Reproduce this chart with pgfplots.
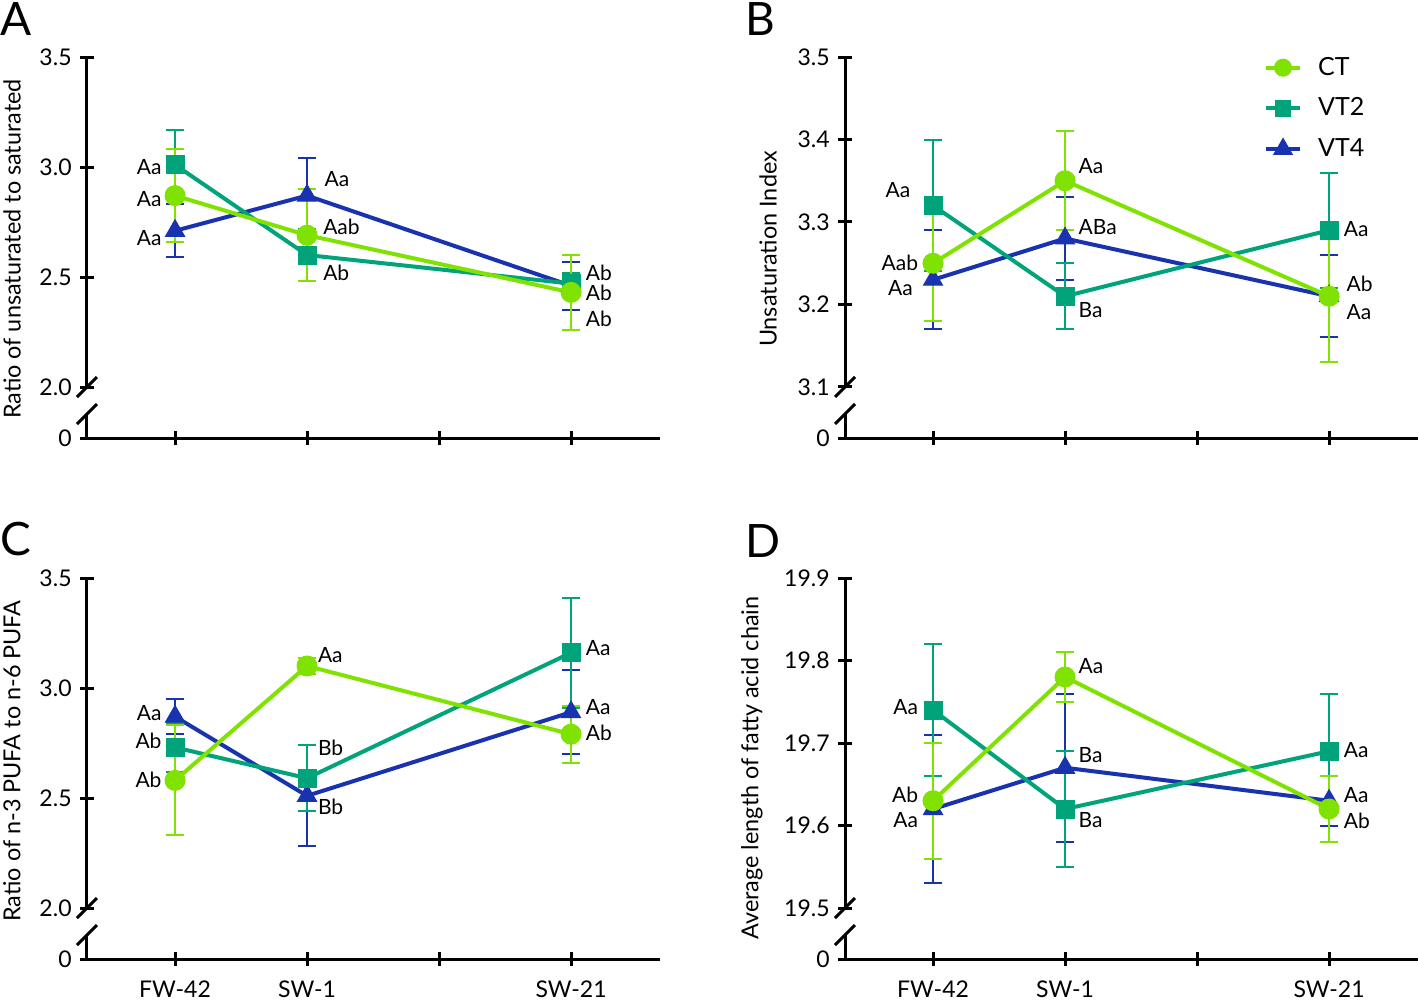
\documentclass[border=0pt]{standalone}
\usepackage{fontspec}
\setmainfont{Lato}
\usepackage{pgfplots}
\pgfplotsset{compat=1.18}
\definecolor{ctc}{RGB}{128,226,0}
\definecolor{vt2c}{RGB}{0,163,122}
\definecolor{vt4c}{RGB}{25,50,175}
\pgfplotsset{
 noarrow/.style={x axis line style={-}, y axis line style={-},
   every outer x axis line/.append style={-}, every outer y axis line/.append style={-},
   every inner x axis line/.append style={-}, every inner y axis line/.append style={-}},
 base/.style={scale only axis, width=286.5pt, xmin=0.333, xmax=4.674, clip=false,
   tick align=outside, major tick length=7pt,
   every tick/.style={black, line width=1.5pt},
   axis line style={-, line width=1.5pt, black},
   tick label style={font=\fontsize{11.5}{13}\selectfont},
   yticklabel style={inner xsep=4pt},
   xticklabel style={yshift=-3.8pt}},
 upper/.style={base, height=165pt, axis x line=none, axis y line=left, noarrow},
 lower/.style={base, height=12pt, ymin=0, ymax=1, axis x line=bottom, axis y line=left,
   ytick={0}, yticklabels={0}, xtick={1,2,3,4}, noarrow},
 ct/.style={color=ctc, line width=2pt, mark=*, mark size=5pt, mark options={solid, line width=0.5pt},
   error bars/.cd, y dir=both, y explicit, error bar style={line width=1pt, ctc},
   error mark options={rotate=90, line width=1pt, mark size=4.5pt, ctc}, /pgfplots/.cd},
 vt2/.style={color=vt2c, line width=2pt, mark=square*, mark size=4.5pt, mark options={solid, line width=0.5pt},
   error bars/.cd, y dir=both, y explicit, error bar style={line width=1pt, vt2c},
   error mark options={rotate=90, line width=1pt, mark size=4.5pt, vt2c}, /pgfplots/.cd},
 vt4/.style={color=vt4c, line width=2pt, mark=triangle*, mark size=5.5pt, mark options={solid, line width=0.5pt},
   error bars/.cd, y dir=both, y explicit, error bar style={line width=1pt, vt4c},
   error mark options={rotate=90, line width=1pt, mark size=4.5pt, vt4c}, /pgfplots/.cd},
}
\tikzset{lab/.style={font=\fontsize{10.5}{12}\selectfont, inner sep=0pt, text=black},
 axlab/.style={font=\fontsize{11.7}{13}\selectfont, rotate=90, inner sep=0pt},
 plet/.style={font=\fontsize{23}{23}\selectfont, anchor=north west, inner sep=0pt},
 brk/.style={line width=1.5pt, black}}
\begin{document}
\begin{tikzpicture}
\useasboundingbox (0,0) rectangle (709pt,-500.5pt);
% ================= Panel A
\begin{axis}[upper, at={(43.5pt,-28.5pt)}, anchor=north west, ymin=2, ymax=3.5,
  ytick={2,2.5,3,3.5}, yticklabels={2.0,2.5,3.0,3.5}, noarrow]
\addplot[vt4] table[x=x,y=y,y error=e]{
x y e
1 2.71 0.12
2 2.87 0.17
4 2.46 0.11
};
\addplot[vt2] table[x=x,y=y,y error=e]{
x y e
1 3.01 0.16
2 2.60 0.12
4 2.47 0.05
};
\addplot[ct] table[x=x,y=y,y error=e]{
x y e
1 2.87 0.21
2 2.69 0.21
4 2.43 0.17
};
\node[lab,anchor=east] at (axis cs:0.9,3.0) {Aa};
\node[lab,anchor=east] at (axis cs:0.9,2.855) {Aa};
\node[lab,anchor=east] at (axis cs:0.9,2.677) {Aa};
\node[lab,anchor=west] at (axis cs:2.13,2.945) {Aa};
\node[lab,anchor=west] at (axis cs:2.12,2.727) {Aab};
\node[lab,anchor=west] at (axis cs:2.12,2.518) {Ab};
\node[lab,anchor=west] at (axis cs:4.11,2.518) {Ab};
\node[lab,anchor=west] at (axis cs:4.11,2.427) {Ab};
\node[lab,anchor=west] at (axis cs:4.11,2.309) {Ab};
\end{axis}
\begin{axis}[lower, at={(43.5pt,-219pt)}, anchor=south west, xticklabels={}, noarrow]
\end{axis}
\draw[brk] (38.5pt,-198.5pt) -- (48.5pt,-188.5pt);
\draw[brk] (38.5pt,-212pt) -- (48.5pt,-202pt);
\node[axlab] at (6pt,-124.5pt) {Ratio of unsaturated to saturated};
\node[plet] at (0pt,-1pt) {A};
% ================= Panel B
\begin{axis}[upper, at={(422.5pt,-28.5pt)}, anchor=north west, ymin=3.1, ymax=3.5,
  ytick={3.1,3.2,3.3,3.4,3.5}, yticklabels={3.1,3.2,3.3,3.4,3.5},
  legend style={draw=none, fill=none, at={(0.72,1.025)}, anchor=north west,
   font=\fontsize{12.5}{14}\selectfont, row sep=5.8pt,
   /tikz/every odd column/.append style={column sep=6pt}}, legend cell align=left, noarrow]
\addlegendimage{color=ctc, line width=2pt, mark=*, mark size=3.5pt, mark options={solid}}
\addlegendentry{CT}
\addlegendimage{color=vt2c, line width=2pt, mark=square*, mark size=3.2pt, mark options={solid}}
\addlegendentry{VT2}
\addlegendimage{color=vt4c, line width=2pt, mark=triangle*, mark size=3.8pt, mark options={solid}}
\addlegendentry{VT4}
\addplot[forget plot, vt4] table[x=x,y=y,y error=e]{
x y e
1 3.23 0.06
2 3.28 0.05
4 3.21 0.05
};
\addplot[forget plot, vt2] table[x=x,y=y,y error=e]{
x y e
1 3.32 0.08
2 3.21 0.04
4 3.29 0.07
};
\addplot[forget plot, ct] table[x=x,y=y,y error=e]{
x y e
1 3.25 0.07
2 3.35 0.06
4 3.21 0.08
};
\node[lab,anchor=east] at (axis cs:0.83,3.339) {Aa};
\node[lab,anchor=east] at (axis cs:0.89,3.251) {Aab};
\node[lab,anchor=east] at (axis cs:0.85,3.220) {Aa};
\node[lab,anchor=west] at (axis cs:2.1,3.368) {Aa};
\node[lab,anchor=west] at (axis cs:2.1,3.294) {ABa};
\node[lab,anchor=west] at (axis cs:2.1,3.193) {Ba};
\node[lab,anchor=west] at (axis cs:4.11,3.292) {Aa};
\node[lab,anchor=west] at (axis cs:4.13,3.225) {Ab};
\node[lab,anchor=west] at (axis cs:4.13,3.191) {Aa};
\end{axis}
\begin{axis}[lower, at={(422.5pt,-219pt)}, anchor=south west, xticklabels={}, noarrow]
\end{axis}
\draw[brk] (417.5pt,-198.5pt) -- (427.5pt,-188.5pt);
\draw[brk] (417.5pt,-212pt) -- (427.5pt,-202pt);
\node[axlab] at (384pt,-124.5pt) {Unsaturation Index};
\node[plet] at (372.5pt,-1pt) {B};
% ================= Panel C
\begin{axis}[upper, at={(43.5pt,-289pt)}, anchor=north west, ymin=2, ymax=3.5,
  ytick={2,2.5,3,3.5}, yticklabels={2.0,2.5,3.0,3.5}, noarrow]
\addplot[vt4] table[x=x,y=y,y error=e]{
x y e
1 2.87 0.08
2 2.51 0.23
4 2.89 0.19
};
\addplot[vt2] table[x=x,y=y,y error=e]{
x y e
1 2.73 0.11
2 2.59 0.15
4 3.16 0.25
};
\addplot[ct] table[x=x,y=y,y error=e]{
x y e
1 2.58 0.25
2 3.10 0.035
4 2.79 0.13
};
\node[lab,anchor=east] at (axis cs:0.9,2.887) {Aa};
\node[lab,anchor=east] at (axis cs:0.9,2.759) {Ab};
\node[lab,anchor=east] at (axis cs:0.9,2.581) {Ab};
\node[lab,anchor=west] at (axis cs:2.08,3.148) {Aa};
\node[lab,anchor=west] at (axis cs:2.08,2.727) {Bb};
\node[lab,anchor=west] at (axis cs:2.08,2.462) {Bb};
\node[lab,anchor=west] at (axis cs:4.11,3.18) {Aa};
\node[lab,anchor=west] at (axis cs:4.11,2.915) {Aa};
\node[lab,anchor=west] at (axis cs:4.11,2.796) {Ab};
\end{axis}
\begin{axis}[lower, at={(43.5pt,-479.5pt)}, anchor=south west, xticklabels={FW-42,SW-1,,SW-21}, noarrow]
\end{axis}
\draw[brk] (38.5pt,-459pt) -- (48.5pt,-449pt);
\draw[brk] (38.5pt,-472.5pt) -- (48.5pt,-462.5pt);
\node[axlab] at (6pt,-380.5pt) {Ratio of n-3 PUFA to n-6 PUFA};
\node[plet] at (0pt,-261pt) {C};
% ================= Panel D
\begin{axis}[upper, at={(422.5pt,-289pt)}, anchor=north west, ymin=19.5, ymax=19.9,
  ytick={19.5,19.6,19.7,19.8,19.9}, yticklabels={19.5,19.6,19.7,19.8,19.9}, noarrow]
\addplot[vt4] table[x=x,y=y,y error=e]{
x y e
1 19.62 0.09
2 19.67 0.09
4 19.63 0.03
};
\addplot[vt2] table[x=x,y=y,y error=e]{
x y e
1 19.74 0.08
2 19.62 0.07
4 19.69 0.07
};
\addplot[ct] table[x=x,y=y,y error=e]{
x y e
1 19.63 0.07
2 19.78 0.03
4 19.62 0.04
};
\node[lab,anchor=east] at (axis cs:0.89,19.743) {Aa};
\node[lab,anchor=east] at (axis cs:0.89,19.637) {Ab};
\node[lab,anchor=east] at (axis cs:0.89,19.606) {Aa};
\node[lab,anchor=west] at (axis cs:2.1,19.793) {Aa};
\node[lab,anchor=west] at (axis cs:2.1,19.685) {Ba};
\node[lab,anchor=west] at (axis cs:2.1,19.606) {Ba};
\node[lab,anchor=west] at (axis cs:4.11,19.691) {Aa};
\node[lab,anchor=west] at (axis cs:4.11,19.637) {Aa};
\node[lab,anchor=west] at (axis cs:4.11,19.606) {Ab};
\end{axis}
\begin{axis}[lower, at={(422.5pt,-479.5pt)}, anchor=south west, xticklabels={FW-42,SW-1,,SW-21}, noarrow]
\end{axis}
\draw[brk] (417.5pt,-459pt) -- (427.5pt,-449pt);
\draw[brk] (417.5pt,-472.5pt) -- (427.5pt,-462.5pt);
\node[axlab] at (376pt,-384pt) {Average length of fatty acid chain};
\node[plet] at (372.5pt,-262pt) {D};
\end{tikzpicture}
\end{document}
